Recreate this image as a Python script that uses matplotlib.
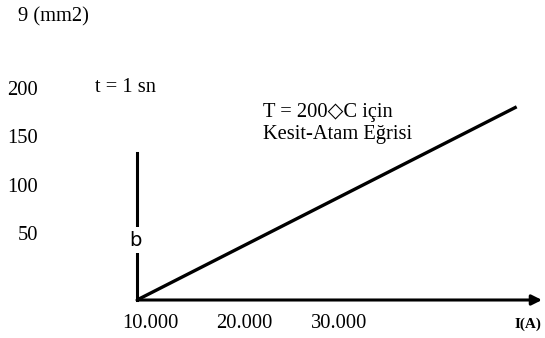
import matplotlib.pyplot as plt

# values
akim = [8624, 48800]          # I (A)
kesit = [0, 184]              # cross-section (drawing units)
x_ticks = [10000, 20000, 30000]
x_labels = ["10.000", "20.000", "30.000"]
y_ticks = [50, 100, 150, 200]
y_labels = ["50", "100", "150", "200"]

serif = ["Liberation Serif", "DejaVu Serif"]
fs = 14.8
W, H = 545, 338

fig = plt.figure(figsize=(5.45, 3.38), dpi=100)
fig.patch.set_facecolor("white")

# main plot area, px 137..542 horizontally, 90..300 vertically
ax = fig.add_axes([137 / W, (H - 300) / H, (542 - 137) / W, (300 - 90) / H])
ax.set_xlim(8624, 51481)
ax.set_ylim(0, 200)
ax.patch.set_alpha(0)
for s in ["top", "right", "bottom"]:
    ax.spines[s].set_visible(False)
ax.spines["left"].set_linewidth(2.2)
ax.spines["left"].set_bounds(0, 140)

ax.plot(akim, kesit, color="black", lw=2.4, solid_capstyle="butt")

# x axis with arrow
ax.annotate("", xy=(1.0, 0), xytext=(0, 0), xycoords="axes fraction",
            arrowprops=dict(arrowstyle="-|>", color="black", lw=2.2,
                            mutation_scale=15, shrinkA=0, shrinkB=0))

ax.set_xticks(x_ticks)
ax.set_xticklabels(x_labels, fontfamily=serif, fontsize=fs)
ax.tick_params(axis="x", length=0, pad=10)
ax.set_yticks([])

# y tick labels sit far to the left of the axis in the scan
ax_lab = fig.add_axes([38 / W, (H - 235) / H, 0.01, (235 - 91) / H])
ax_lab.set_ylim(50, 200)
ax_lab.axis("off")
for v, lab in zip(y_ticks, y_labels):
    ax_lab.text(0, v, lab, ha="right", va="center", fontfamily=serif,
                fontsize=fs, transform=ax_lab.get_yaxis_transform())

fig.text(18 / W, 1 - 17 / H, "9 (mm2)", ha="left", va="center",
         fontfamily=serif, fontsize=fs)
fig.text(95 / W, 1 - 87 / H, "t = 1 sn", ha="left", va="center",
         fontfamily=serif, fontsize=fs)
fig.text(263 / W, 1 - 113 / H, "T = 200\u25c7C için", ha="left", va="center",
         fontfamily=["Liberation Serif", "DejaVu Sans"], fontsize=fs)
fig.text(263 / W, 1 - 135 / H, "Kesit-Atam Eğrisi", ha="left", va="center",
         fontfamily=serif, fontsize=fs)
fig.text(135 / W, 1 - 240 / H, "b", ha="center", va="center",
         fontfamily="DejaVu Sans", fontsize=14,
         bbox=dict(facecolor="white", edgecolor="none", pad=2.5))
fig.text(528 / W, 1 - 324 / H, "I(A)", ha="center", va="center",
         fontfamily=serif, fontsize=11, fontweight="bold")

fig.savefig("out.png", dpi=100)
